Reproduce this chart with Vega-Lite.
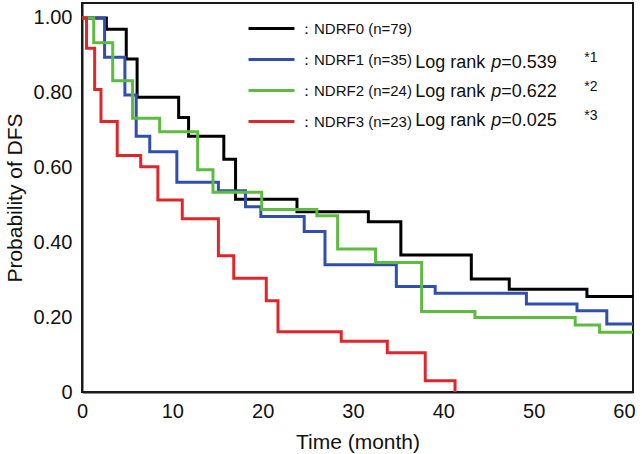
{
  "$schema": "https://vega.github.io/schema/vega-lite/v6.json",
  "width": 551,
  "height": 389,
  "autosize": "none",
  "padding": {"left": 82, "top": 3, "right": 9, "bottom": 62},
  "background": "white",
  "config": {
    "view": {"stroke": "#1a1a1a", "strokeWidth": 2},
    "font": "Liberation Sans",
    "axis": {"domainColor": "#1a1a1a", "domainWidth": 2, "ticks": false, "tickSize": 0, "grid": false, "labelFont": "Liberation Sans", "labelFontSize": 20, "labelColor": "#111111", "titleFont": "Liberation Sans", "titleFontSize": 21, "titleFontWeight": "normal", "titleColor": "#111111"}
  },
  "datasets": {
    "km": [
      {"group": "NDRF0 (n=79)", "t": 0, "s": 1},
      {"group": "NDRF0 (n=79)", "t": 2.7, "s": 0.97},
      {"group": "NDRF0 (n=79)", "t": 4.9, "s": 0.89},
      {"group": "NDRF0 (n=79)", "t": 6.1, "s": 0.788},
      {"group": "NDRF0 (n=79)", "t": 10.7, "s": 0.734},
      {"group": "NDRF0 (n=79)", "t": 11.8, "s": 0.684},
      {"group": "NDRF0 (n=79)", "t": 15.7, "s": 0.622},
      {"group": "NDRF0 (n=79)", "t": 17.0, "s": 0.515},
      {"group": "NDRF0 (n=79)", "t": 23.8, "s": 0.482},
      {"group": "NDRF0 (n=79)", "t": 31.7, "s": 0.455},
      {"group": "NDRF0 (n=79)", "t": 35.3, "s": 0.366},
      {"group": "NDRF0 (n=79)", "t": 43.1, "s": 0.302},
      {"group": "NDRF0 (n=79)", "t": 47.3, "s": 0.275},
      {"group": "NDRF0 (n=79)", "t": 55.9, "s": 0.255},
      {"group": "NDRF0 (n=79)", "t": 61, "s": 0.255},
      {"group": "NDRF1 (n=35)", "t": 0, "s": 1},
      {"group": "NDRF1 (n=35)", "t": 2.5, "s": 0.895},
      {"group": "NDRF1 (n=35)", "t": 4.75, "s": 0.794},
      {"group": "NDRF1 (n=35)", "t": 6.0, "s": 0.684},
      {"group": "NDRF1 (n=35)", "t": 7.5, "s": 0.642},
      {"group": "NDRF1 (n=35)", "t": 10.5, "s": 0.561},
      {"group": "NDRF1 (n=35)", "t": 15.1, "s": 0.538},
      {"group": "NDRF1 (n=35)", "t": 18.1, "s": 0.495},
      {"group": "NDRF1 (n=35)", "t": 19.8, "s": 0.469},
      {"group": "NDRF1 (n=35)", "t": 24.6, "s": 0.429},
      {"group": "NDRF1 (n=35)", "t": 26.9, "s": 0.34},
      {"group": "NDRF1 (n=35)", "t": 34.8, "s": 0.282},
      {"group": "NDRF1 (n=35)", "t": 39.1, "s": 0.264},
      {"group": "NDRF1 (n=35)", "t": 49.2, "s": 0.235},
      {"group": "NDRF1 (n=35)", "t": 54.8, "s": 0.217},
      {"group": "NDRF1 (n=35)", "t": 58.1, "s": 0.182},
      {"group": "NDRF1 (n=35)", "t": 61, "s": 0.182},
      {"group": "NDRF2 (n=24)", "t": 0, "s": 1},
      {"group": "NDRF2 (n=24)", "t": 1.3, "s": 0.934},
      {"group": "NDRF2 (n=24)", "t": 3.4, "s": 0.832},
      {"group": "NDRF2 (n=24)", "t": 5.6, "s": 0.732},
      {"group": "NDRF2 (n=24)", "t": 8.6, "s": 0.696},
      {"group": "NDRF2 (n=24)", "t": 12.8, "s": 0.594},
      {"group": "NDRF2 (n=24)", "t": 14.5, "s": 0.534},
      {"group": "NDRF2 (n=24)", "t": 19.9, "s": 0.488},
      {"group": "NDRF2 (n=24)", "t": 26.0, "s": 0.471},
      {"group": "NDRF2 (n=24)", "t": 28.3, "s": 0.382},
      {"group": "NDRF2 (n=24)", "t": 32.5, "s": 0.346},
      {"group": "NDRF2 (n=24)", "t": 37.6, "s": 0.215},
      {"group": "NDRF2 (n=24)", "t": 43.5, "s": 0.199},
      {"group": "NDRF2 (n=24)", "t": 54.6, "s": 0.179},
      {"group": "NDRF2 (n=24)", "t": 57.3, "s": 0.16},
      {"group": "NDRF2 (n=24)", "t": 61, "s": 0.16},
      {"group": "NDRF3 (n=23)", "t": 0, "s": 1},
      {"group": "NDRF3 (n=23)", "t": 0.5, "s": 0.919},
      {"group": "NDRF3 (n=23)", "t": 1.4, "s": 0.809},
      {"group": "NDRF3 (n=23)", "t": 2.1, "s": 0.723},
      {"group": "NDRF3 (n=23)", "t": 3.9, "s": 0.632},
      {"group": "NDRF3 (n=23)", "t": 6.5, "s": 0.602},
      {"group": "NDRF3 (n=23)", "t": 8.4, "s": 0.513},
      {"group": "NDRF3 (n=23)", "t": 11.1, "s": 0.463},
      {"group": "NDRF3 (n=23)", "t": 15.1, "s": 0.364},
      {"group": "NDRF3 (n=23)", "t": 16.8, "s": 0.304},
      {"group": "NDRF3 (n=23)", "t": 20.4, "s": 0.244},
      {"group": "NDRF3 (n=23)", "t": 21.7, "s": 0.161},
      {"group": "NDRF3 (n=23)", "t": 28.7, "s": 0.136},
      {"group": "NDRF3 (n=23)", "t": 33.8, "s": 0.105},
      {"group": "NDRF3 (n=23)", "t": 38.0, "s": 0.03},
      {"group": "NDRF3 (n=23)", "t": 41.3, "s": 0}
    ],
    "notes": [
      {"group": "NDRF1", "val": "=0.539", "star": "*1"},
      {"group": "NDRF2", "val": "=0.622", "star": "*2"},
      {"group": "NDRF3", "val": "=0.025", "star": "*3"}
    ]
  },
  "layer": [
    {
      "data": {"name": "km"},
      "mark": {"type": "line", "interpolate": "step-after", "strokeWidth": 3},
      "encoding": {
        "x": {"field": "t", "type": "quantitative", "scale": {"domain": [0, 61], "nice": false, "zero": false}, "axis": {"values": [0, 10, 20, 30, 40, 50, 60], "title": "Time (month)", "labelPadding": 9, "titlePadding": 10, "labelFlush": false}},
        "y": {"field": "s", "type": "quantitative", "scale": {"domain": [0, 1.04], "nice": false}, "axis": {"values": [0, 0.2, 0.4, 0.6, 0.8, 1], "labelExpr": "datum.value == 0 ? '0' : format(datum.value, '.2f')", "title": "Probability of DFS", "labelPadding": 10, "titlePadding": 8}},
        "color": {
          "field": "group", "type": "nominal",
          "scale": {"domain": ["NDRF0 (n=79)", "NDRF1 (n=35)", "NDRF2 (n=24)", "NDRF3 (n=23)"], "range": ["#000000", "#2f4fae", "#5dbb3f", "#e0262b"]},
          "legend": {"orient": "none", "legendX": 182, "legendY": 18, "title": null, "symbolType": "M-4,0H4", "symbolSize": 132, "symbolStrokeWidth": 3, "labelFontSize": 15, "labelFont": "Liberation Sans", "labelColor": "#111111", "labelOffset": 20, "rowPadding": 15, "padding": 0, "labelExpr": "'：' + datum.label"}
        }
      }
    },
    {
      "data": {"name": "notes"},
      "mark": {"type": "text", "align": "left", "baseline": "middle", "fontSize": 18, "font": "Liberation Sans", "color": "#111111"},
      "encoding": {
        "x": {"datum": 36.9, "type": "quantitative"},
        "y": {"field": "group", "type": "ordinal", "scale": {"type": "point", "domain": ["NDRF1", "NDRF2", "NDRF3"], "range": [60, 118], "padding": 0}, "axis": null},
        "text": {"value": "Log rank"}
      }
    },
    {
      "data": {"name": "notes"},
      "mark": {"type": "text", "align": "left", "baseline": "middle", "fontSize": 18, "font": "Liberation Sans", "fontStyle": "italic", "color": "#111111", "dx": 76},
      "encoding": {
        "x": {"datum": 36.9, "type": "quantitative"},
        "y": {"field": "group", "type": "ordinal", "scale": {"type": "point", "domain": ["NDRF1", "NDRF2", "NDRF3"], "range": [60, 118], "padding": 0}, "axis": null},
        "text": {"value": "p"}
      }
    },
    {
      "data": {"name": "notes"},
      "mark": {"type": "text", "align": "left", "baseline": "middle", "fontSize": 18, "font": "Liberation Sans", "color": "#111111", "dx": 86},
      "encoding": {
        "x": {"datum": 36.9, "type": "quantitative"},
        "y": {"field": "group", "type": "ordinal", "scale": {"type": "point", "domain": ["NDRF1", "NDRF2", "NDRF3"], "range": [60, 118], "padding": 0}, "axis": null},
        "text": {"field": "val"}
      }
    },
    {
      "data": {"name": "notes"},
      "mark": {"type": "text", "align": "left", "baseline": "middle", "fontSize": 14, "font": "Liberation Sans", "color": "#111111", "dx": 169, "dy": -5},
      "encoding": {
        "x": {"datum": 36.9, "type": "quantitative"},
        "y": {"field": "group", "type": "ordinal", "scale": {"type": "point", "domain": ["NDRF1", "NDRF2", "NDRF3"], "range": [60, 118], "padding": 0}, "axis": null},
        "text": {"field": "star"}
      }
    }
  ],
  "resolve": {"scale": {"y": "independent"}}
}
